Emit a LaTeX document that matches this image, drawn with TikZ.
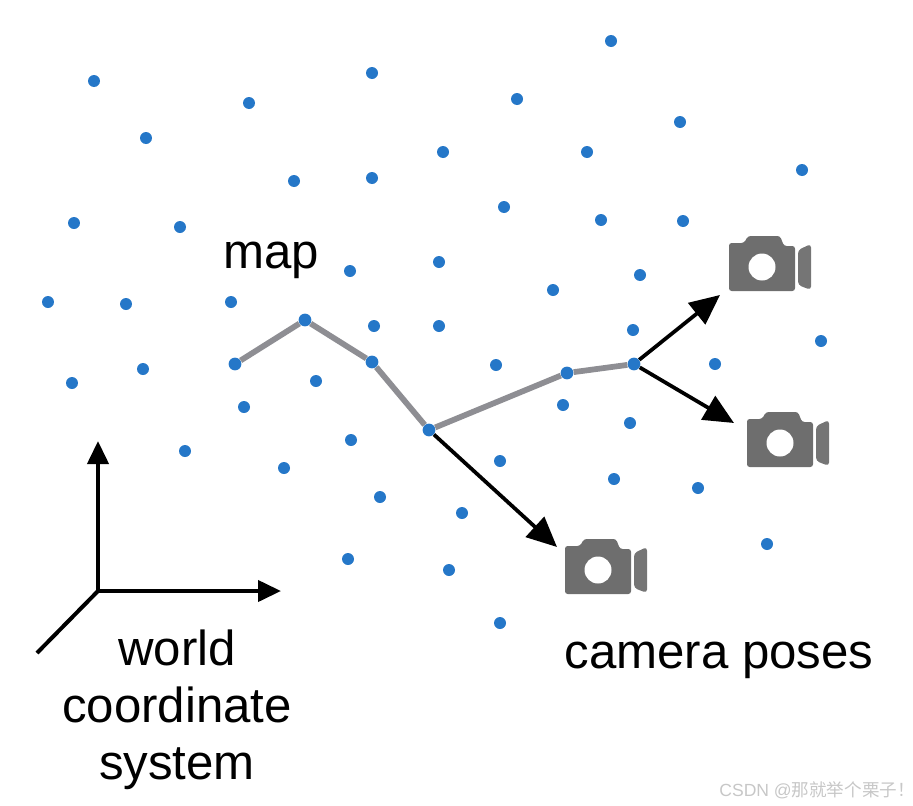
\documentclass[tikz,border=0pt]{standalone}
\usepackage{fontspec}
\setmainfont{Liberation Sans}
\newfontfamily\cjkfont{Noto Sans CJK SC}
\usetikzlibrary{arrows.meta}
\definecolor{dotblue}{HTML}{2577C8}
\definecolor{trackgray}{HTML}{8E8E93}
\definecolor{camgray}{HTML}{6E6E6E}
\tikzset{
  pt/.style={circle,fill=dotblue,inner sep=0pt,minimum size=0.24cm},
  posept/.style={circle,fill=dotblue,inner sep=0pt,minimum size=0.255cm},
  track/.style={line width=0.115cm,trackgray,line join=round},
  arr/.style={-{Triangle[length=0.46cm,width=0.42cm]},line width=0.08cm,black},
  posearr/.style={-{Triangle[length=0.6cm,width=0.54cm]},line width=0.075cm,black},
  lbl/.style={font=\fontsize{28}{32.4}\selectfont,align=center,inner sep=0pt},
  camera/.pic={
    \fill[camgray,rounded corners=1.5pt] (-33,-24) -- (-18,-24) -- (-14,-31) -- (18,-31) -- (22,-21) -- (33,-21) -- (33,24) -- (-33,24) -- cycle;
    \fill[white] (0,0) circle (0.27cm);
    \fill[camgray!95!white,rounded corners=2pt] (36,-17) -- (49,-23) -- (49,23) -- (36,18) -- cycle;
  }
}
\begin{document}
\begin{tikzpicture}[x=0.02cm,y=-0.02cm]
  \useasboundingbox (0,0) rectangle (913,805);
  % map points
  \foreach \x/\y [count=\i] in {94/81,146/138,249/103,372/73,517/99,611/41,680/122,587/152,443/152,372/178,294/181,802/170,
    74/223,180/227,504/207,601/220,683/221,350/271,439/262,640/275,553/290,48/302,126/304,231/302,
    374/326,439/326,633/330,821/341,72/383,143/369,316/381,496/365,715/364,244/407,563/405,630/423,
    185/451,351/440,284/468,500/461,614/479,698/488,380/497,462/513,767/544,348/559,449/570,500/623}
    \node[pt] (p\i) at (\x,\y) {};
  % camera track
  \node[posept] (t1) at (235,364) {};
  \node[posept] (t2) at (305,320) {};
  \node[posept] (t3) at (372,362) {};
  \node[posept] (t4) at (429,430) {};
  \node[posept] (t5) at (567,373) {};
  \node[posept] (t6) at (634,364) {};
  \draw[track] (t1) -- (t2) -- (t3) -- (t4) -- (t5) -- (t6);
  % cameras
  \pic (camA) at (762,267) {camera};
  \pic (camB) at (780,443) {camera};
  \pic (camC) at (598,570) {camera};
  \coordinate (tipA) at (720,295);
  \coordinate (tipB) at (734,423);
  \coordinate (tipC) at (557,547);
  \draw[posearr] (t6) -- (tipA);
  \draw[posearr] (t6) -- (tipB);
  \draw[posearr] (t4) -- (tipC);
  % world axes
  \coordinate (org) at (98,591);
  \coordinate (axY) at (98,441);
  \coordinate (axX) at (281,591);
  \coordinate (axZ) at (37,653);
  \draw[arr] (org) -- (axY);
  \draw[arr] (org) -- (axX);
  \draw[line width=0.08cm] (org) -- (axZ);
  % labels
  \node[lbl] (maplbl) at (271,260) {map};
  \node[lbl] (poselbl) at (719,660) {camera poses};
  \node[lbl] (worldlbl) at (177,710) {world\\coordinate\\system};
  \node[font=\fontsize{10}{12}\selectfont,text=black!22,inner sep=0pt,anchor=west] (mark) at (719,790) {CSDN @{\cjkfont 那就举个栗子！}};
\end{tikzpicture}
\end{document}
